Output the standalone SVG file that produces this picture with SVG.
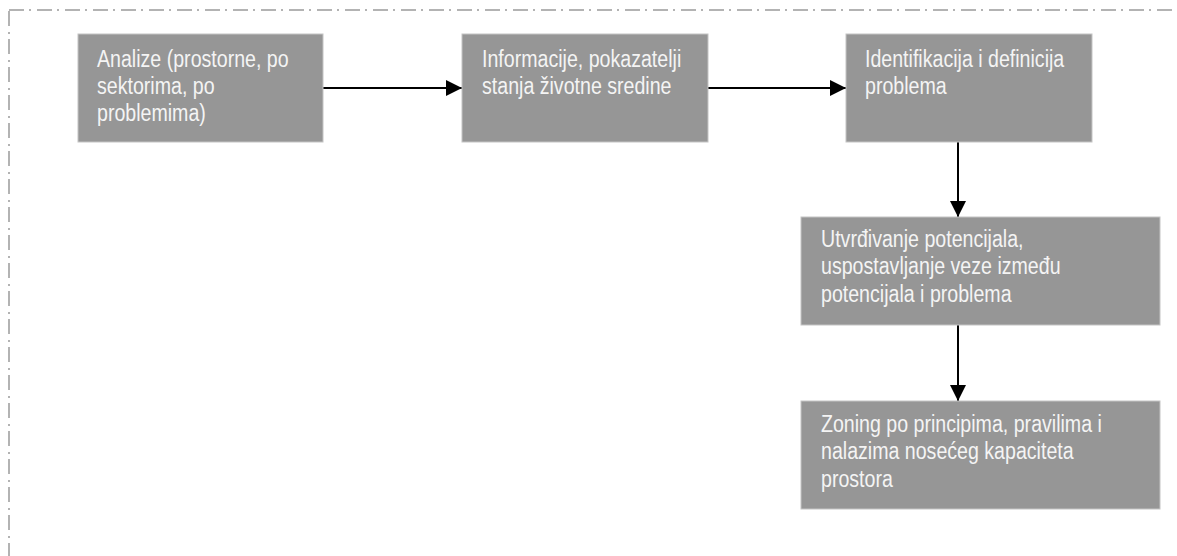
<svg xmlns="http://www.w3.org/2000/svg" width="1177" height="556" viewBox="0 0 1177 556">
<style>
.box{fill:#969696;stroke:#c4c4c4;stroke-width:1}
.t{font-family:"Liberation Sans",Arial,sans-serif;font-size:24.5px;fill:#f4f4f4}
.c{stroke:#000;stroke-width:2;fill:none}
.frame{fill:none;stroke:#9a9a9a;stroke-width:1.5;stroke-dasharray:15 5 2 6}
</style>
<defs>
<marker id="ah" markerWidth="16" markerHeight="16" refX="16" refY="8" orient="auto" markerUnits="userSpaceOnUse">
<path d="M0,0 L16,8 L0,16 Z" fill="#000"/>
</marker>
</defs>
<rect class="frame" x="9" y="10" width="1200" height="600"/>
<g id="connectors">
<line class="c" x1="323" y1="88" x2="462" y2="88" marker-end="url(#ah)"/>
<line class="c" x1="708" y1="88" x2="846" y2="88" marker-end="url(#ah)"/>
<line class="c" x1="958" y1="142" x2="958" y2="217" marker-end="url(#ah)"/>
<line class="c" x1="958" y1="325" x2="958" y2="401" marker-end="url(#ah)"/>
</g>
<g id="n1">
<rect class="box" x="78" y="34" width="245" height="108"/>
<text class="t" transform="matrix(0.8 0 0 1 97 67)"><tspan x="0" y="0">Analize (prostorne, po</tspan><tspan x="0" y="27">sektorima, po</tspan><tspan x="0" y="54">problemima)</tspan></text>
</g>
<g id="n2">
<rect class="box" x="462" y="34" width="246" height="108"/>
<text class="t" transform="matrix(0.8 0 0 1 482 67)"><tspan x="0" y="0">Informacije, pokazatelji</tspan><tspan x="0" y="27">stanja životne sredine</tspan></text>
</g>
<g id="n3">
<rect class="box" x="846" y="34" width="246" height="108"/>
<text class="t" transform="matrix(0.8 0 0 1 865 67)"><tspan x="0" y="0">Identifikacija i definicija</tspan><tspan x="0" y="27">problema</tspan></text>
</g>
<g id="n4">
<rect class="box" x="801" y="217" width="359" height="108"/>
<text class="t" transform="matrix(0.8 0 0 1 821 247)"><tspan x="0" y="0">Utvrđivanje potencijala,</tspan><tspan x="0" y="27.5">uspostavljanje veze između</tspan><tspan x="0" y="55">potencijala i problema</tspan></text>
</g>
<g id="n5">
<rect class="box" x="801" y="401" width="359" height="108"/>
<text class="t" transform="matrix(0.8 0 0 1 821 432)"><tspan x="0" y="0">Zoning po principima, pravilima i</tspan><tspan x="0" y="27.5">nalazima nosećeg kapaciteta</tspan><tspan x="0" y="55">prostora</tspan></text>
</g>
</svg>
